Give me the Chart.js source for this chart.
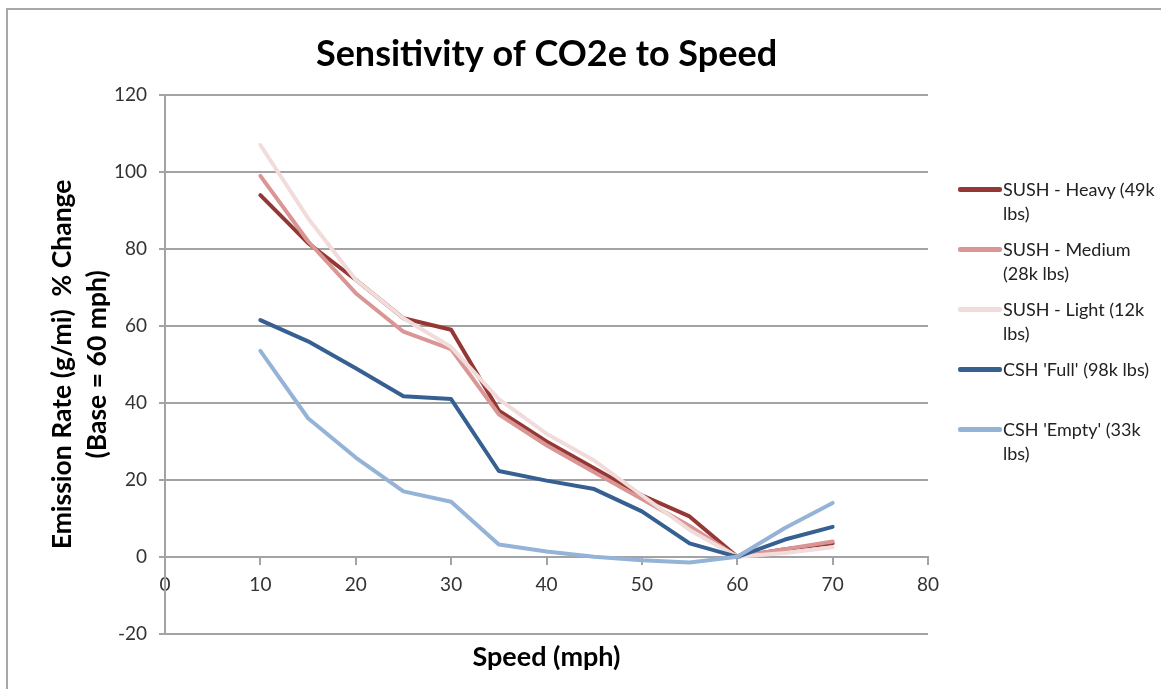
<!DOCTYPE html>
<html>
<head>
<meta charset="utf-8">
<script src="https://cdn.jsdelivr.net/npm/chart.js@4.4.0/dist/chart.umd.min.js"></script>
<style>
    html, body { margin: 0; padding: 0; background: #fff; }
    #wrap { position: relative; width: 1161px; height: 689px; overflow: hidden; }
    #frame {
        position: absolute; left: 6px; top: 8px; width: 1200px; height: 720px;
        border-left: 2px solid #a8a8a8; border-top: 2px solid #a8a8a8;
    }
    #emissionChart { position: absolute; left: 0; top: 0; }
    #legend {
        position: absolute; left: 958px; top: 177px;
        font-family: Lato, "Open Sans", sans-serif; font-size: 18px; color: #222;
    }
    .item { display: flex; align-items: flex-start; height: 60px; }
    .swatch { flex: none; width: 44px; height: 5px; margin-top: 10px; border-radius: 2px; }
    .text { width: 156px; line-height: 24px; margin-left: 1px; }
</style>
</head>
<body>
<div id="wrap">
    <div id="frame"></div>
    <canvas id="emissionChart" width="1161" height="689"></canvas>
    <div id="legend"></div>
</div>
<script>
// speed (mph)
const speeds = [10, 15, 20, 25, 30, 35, 40, 45, 50, 55, 60, 65, 70];

// % change in emission rate vs 60 mph
const sushHeavy  = [94, 81.5, 72, 62, 59, 38, 30, 23, 16, 10.5, 0, 2, 3.5];
const sushMedium = [99, 82, 68.5, 58.5, 54, 37, 29, 22, 15, 8, 0, 2, 4];
const sushLight  = [107, 88, 72, 62, 54.5, 41, 32, 25, 16, 7, 0, 1, 2.5];
const cshFull    = [61.5, 56, 49, 41.7, 41, 22.3, 19.8, 17.6, 11.8, 3.5, 0, 4.5, 7.8];
const cshEmpty   = [53.5, 36, 25.8, 17, 14.3, 3.2, 1.4, 0, -0.9, -1.5, 0, 7.5, 14];

const seriesNames = [
    "SUSH - Heavy (49k lbs)",
    "SUSH - Medium (28k lbs)",
    "SUSH - Light (12k lbs)",
    "CSH 'Full' (98k lbs)",
    "CSH 'Empty' (33k lbs)"
];

const gridColor = "#a3a3a3";

Chart.defaults.font.family = "Lato, 'Open Sans', sans-serif";

function toPoints(values) {
    return speeds.map((s, i) => ({ x: s, y: values[i] }));
}

function series(name, values, color, order) {
    return {
        label: name,
        data: toPoints(values),
        borderColor: color,
        backgroundColor: color,
        borderWidth: 4,
        pointRadius: 0,
        tension: 0,
        borderJoinStyle: "round",
        borderCapStyle: "round",
        order: order
    };
}

const ctx = document.getElementById("emissionChart").getContext("2d");

const chart = new Chart(ctx, {
    type: "line",
    data: {
        datasets: [
            series(seriesNames[0], sushHeavy, "#953735", 5),
            series(seriesNames[1], sushMedium, "#d99694", 4),
            series(seriesNames[2], sushLight, "#f2dcdb", 3),
            series(seriesNames[3], cshFull, "#376092", 2),
            series(seriesNames[4], cshEmpty, "#95b3d7", 1)
        ]
    },
    options: {
        responsive: false,
        animation: false,
        layout: {
            padding: { left: 10, right: 233, top: 33, bottom: 16 }
        },
        plugins: {
            legend: { display: false },
            tooltip: { enabled: false },
            title: {
                display: true,
                text: "Sensitivity of CO2e to Speed",
                color: "#000",
                fullSize: false,
                font: { size: 36, weight: "bold" },
                padding: { top: 0, bottom: 18.8 }
            },
            subtitle: {
                display: true,
                position: "bottom",
                text: "Speed (mph)",
                color: "#000",
                fullSize: false,
                font: { size: 27, weight: "bold" },
                padding: { top: 6.8, bottom: 0 }
            }
        },
        scales: {
            x: {
                type: "linear",
                position: { y: 0 },
                min: 0,
                max: 80,
                afterFit(scale) {
                    scale.height = 0;
                },
                ticks: {
                    stepSize: 10,
                    color: "#333",
                    padding: 10,
                    font: { size: 19 }
                },
                grid: {
                    drawOnChartArea: false,
                    drawTicks: true,
                    tickLength: 7,
                    color: gridColor,
                    lineWidth: 2
                },
                border: { display: true, color: gridColor, width: 2 }
            },
            y: {
                min: -20,
                max: 120,
                afterFit(scale) {
                    scale.width = 155;
                },
                ticks: {
                    stepSize: 20,
                    color: "#333",
                    padding: 12,
                    font: { size: 19 }
                },
                grid: {
                    color: gridColor,
                    lineWidth: 2,
                    tickLength: 6
                },
                border: { display: true, color: gridColor, width: 2 },
                title: {
                    display: true,
                    text: ["Emission Rate (g/mi)  % Change", "(Base = 60 mph)"],
                    color: "#000",
                    font: { size: 26.5, weight: "bold", lineHeight: 35 / 26.5 },
                    padding: { top: 34.5, bottom: 0 }
                }
            }
        }
    }
});

// legend built from the chart's own datasets
const legendBox = document.getElementById("legend");
chart.data.datasets.forEach(ds => {
    const item = document.createElement("div");
    item.className = "item";
    const sw = document.createElement("div");
    sw.className = "swatch";
    sw.style.background = ds.borderColor;
    const txt = document.createElement("div");
    txt.className = "text";
    txt.textContent = ds.label;
    item.appendChild(sw);
    item.appendChild(txt);
    legendBox.appendChild(item);
});
</script>
</body>
</html>
